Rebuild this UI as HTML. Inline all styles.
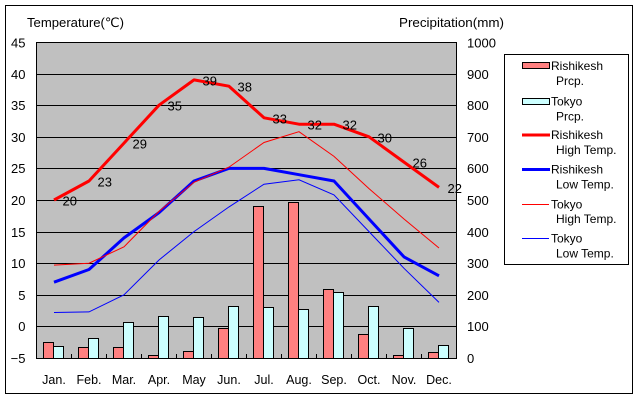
<!DOCTYPE html>
<html><head><meta charset="utf-8"><style>
html,body{margin:0;padding:0;background:#fff;}
svg{display:block;}
text{font-family:"Liberation Sans","DejaVu Sans","Noto Sans CJK JP",sans-serif;fill:#000;}
</style></head><body>
<svg width="640" height="400" viewBox="0 0 640 400" xmlns="http://www.w3.org/2000/svg">
<rect x="0" y="0" width="640" height="400" fill="#fff"/>
<rect x="5.5" y="5.5" width="627" height="388" fill="none" stroke="#000" stroke-width="1"/>
<!-- plot area -->
<rect x="36.5" y="42.5" width="420" height="316" fill="#c0c0c0"/>
<g stroke="#000" stroke-width="1">
<line x1="36.5" y1="74.5" x2="456.5" y2="74.5"/>
<line x1="36.5" y1="105.5" x2="456.5" y2="105.5"/>
<line x1="36.5" y1="137.5" x2="456.5" y2="137.5"/>
<line x1="36.5" y1="168.5" x2="456.5" y2="168.5"/>
<line x1="36.5" y1="200.5" x2="456.5" y2="200.5"/>
<line x1="36.5" y1="232.5" x2="456.5" y2="232.5"/>
<line x1="36.5" y1="263.5" x2="456.5" y2="263.5"/>
<line x1="36.5" y1="295.5" x2="456.5" y2="295.5"/>
<line x1="36.5" y1="326.5" x2="456.5" y2="326.5"/>
</g>
<!-- bars -->
<g stroke="#000" stroke-width="1">
<rect x="43.5" y="342.5" width="10" height="16" fill="#ff8080"/>
<rect x="53.5" y="346.5" width="10" height="12" fill="#ccffff"/>
<rect x="78.5" y="347.5" width="10" height="11" fill="#ff8080"/>
<rect x="88.5" y="338.5" width="10" height="20" fill="#ccffff"/>
<rect x="113.5" y="347.5" width="10" height="11" fill="#ff8080"/>
<rect x="123.5" y="322.5" width="10" height="36" fill="#ccffff"/>
<rect x="148.5" y="355.5" width="10" height="3" fill="#ff8080"/>
<rect x="158.5" y="316.5" width="10" height="42" fill="#ccffff"/>
<rect x="183.5" y="351.5" width="10" height="7" fill="#ff8080"/>
<rect x="193.5" y="317.5" width="10" height="41" fill="#ccffff"/>
<rect x="218.5" y="328.5" width="10" height="30" fill="#ff8080"/>
<rect x="228.5" y="306.5" width="10" height="52" fill="#ccffff"/>
<rect x="253.5" y="206.5" width="10" height="152" fill="#ff8080"/>
<rect x="263.5" y="307.5" width="10" height="51" fill="#ccffff"/>
<rect x="288.5" y="202.5" width="10" height="156" fill="#ff8080"/>
<rect x="298.5" y="309.5" width="10" height="49" fill="#ccffff"/>
<rect x="323.5" y="289.5" width="10" height="69" fill="#ff8080"/>
<rect x="333.5" y="292.5" width="10" height="66" fill="#ccffff"/>
<rect x="358.5" y="334.5" width="10" height="24" fill="#ff8080"/>
<rect x="368.5" y="306.5" width="10" height="52" fill="#ccffff"/>
<rect x="393.5" y="355.5" width="10" height="3" fill="#ff8080"/>
<rect x="403.5" y="328.5" width="10" height="30" fill="#ccffff"/>
<rect x="428.5" y="352.5" width="10" height="6" fill="#ff8080"/>
<rect x="438.5" y="345.5" width="10" height="13" fill="#ccffff"/>
</g>
<!-- plot border & ticks -->
<rect x="36.5" y="42.5" width="420" height="316" fill="none" stroke="#000" stroke-width="1"/>
<g stroke="#000" stroke-width="1">
<line x1="71.5" y1="354" x2="71.5" y2="358"/>
<line x1="106.5" y1="354" x2="106.5" y2="358"/>
<line x1="141.5" y1="354" x2="141.5" y2="358"/>
<line x1="176.5" y1="354" x2="176.5" y2="358"/>
<line x1="211.5" y1="354" x2="211.5" y2="358"/>
<line x1="246.5" y1="354" x2="246.5" y2="358"/>
<line x1="281.5" y1="354" x2="281.5" y2="358"/>
<line x1="316.5" y1="354" x2="316.5" y2="358"/>
<line x1="351.5" y1="354" x2="351.5" y2="358"/>
<line x1="386.5" y1="354" x2="386.5" y2="358"/>
<line x1="421.5" y1="354" x2="421.5" y2="358"/>
</g>
<!-- lines -->
<polyline fill="none" stroke="#ff0000" stroke-width="3" stroke-linejoin="round" points="54,200 89,181 124,143.1 159,105.2 194,79.9 229,86.2 264,117.8 299,124.2 334,124.2 369,136.8 404,162.1 439,187.4"/>
<polyline fill="none" stroke="#0000ff" stroke-width="3" stroke-linejoin="round" points="54,282.2 89,269.5 124,237.9 159,212.6 194,181 229,168.4 264,168.4 299,174.7 334,181 369,219 404,256.9 439,275.8"/>
<polyline fill="none" stroke="#ff0000" stroke-width="1" points="54,265.1 89,263.2 124,246.8 159,211.4 194,182.3 229,167.1 264,142.5 299,131.7 334,156.4 369,188.6 404,219 439,248"/>
<polyline fill="none" stroke="#0000ff" stroke-width="1" points="54,312.5 89,311.9 124,294.8 159,260 194,231.6 229,206.9 264,184.2 299,179.8 334,194.9 369,231.6 404,268.3 439,302.4"/>
<!-- data labels -->
<g font-size="13">
<text x="62.5" y="205.5">20</text>
<text x="97.5" y="186.5">23</text>
<text x="132.5" y="148.6">29</text>
<text x="167.5" y="110.7">35</text>
<text x="202.5" y="85.4">39</text>
<text x="237.5" y="91.7">38</text>
<text x="272.5" y="123.3">33</text>
<text x="307.5" y="129.7">32</text>
<text x="342.5" y="129.7">32</text>
<text x="377.5" y="142.3">30</text>
<text x="412.5" y="167.6">26</text>
<text x="447.5" y="192.9">22</text>
</g>
<!-- left axis labels -->
<g font-size="13" text-anchor="end">
<text x="25.5" y="47.5">45</text>
<text x="25.5" y="79">40</text>
<text x="25.5" y="110">35</text>
<text x="25.5" y="142">30</text>
<text x="25.5" y="173">25</text>
<text x="25.5" y="205">20</text>
<text x="25.5" y="237">15</text>
<text x="25.5" y="268">10</text>
<text x="25.5" y="300">5</text>
<text x="25.5" y="331">0</text>
<text x="25.5" y="363">−5</text>
</g>
<!-- right axis labels -->
<g font-size="13">
<text x="467" y="47.5">1000</text>
<text x="467" y="79">900</text>
<text x="467" y="110">800</text>
<text x="467" y="142">700</text>
<text x="467" y="173">600</text>
<text x="467" y="205">500</text>
<text x="467" y="237">400</text>
<text x="467" y="268">300</text>
<text x="467" y="300">200</text>
<text x="467" y="331">100</text>
<text x="467" y="363">0</text>
</g>
<!-- month labels -->
<g font-size="12.5" text-anchor="middle">
<text x="54" y="384">Jan.</text>
<text x="89" y="384">Feb.</text>
<text x="124" y="384">Mar.</text>
<text x="159" y="384">Apr.</text>
<text x="194" y="384">May</text>
<text x="229" y="384">Jun.</text>
<text x="264" y="384">Jul.</text>
<text x="299" y="384">Aug.</text>
<text x="334" y="384">Sep.</text>
<text x="369" y="384">Oct.</text>
<text x="404" y="384">Nov.</text>
<text x="439" y="384">Dec.</text>
</g>
<!-- titles -->
<text x="27" y="27" font-size="13" textLength="97" lengthAdjust="spacingAndGlyphs">Temperature(℃)</text>
<text x="399" y="27" font-size="13" textLength="105" lengthAdjust="spacingAndGlyphs">Precipitation(mm)</text>
<!-- legend -->
<rect x="504.5" y="54.5" width="124" height="210" fill="#fff" stroke="#000" stroke-width="1"/>
<rect x="522.5" y="62.5" width="27" height="6" fill="#ff8080" stroke="#000" stroke-width="1"/>
<rect x="522.5" y="98.5" width="27" height="6" fill="#ccffff" stroke="#000" stroke-width="1"/>
<line x1="522" y1="135" x2="550" y2="135" stroke="#ff0000" stroke-width="3"/>
<line x1="522" y1="169.5" x2="550" y2="169.5" stroke="#0000ff" stroke-width="3"/>
<line x1="522" y1="204.5" x2="549" y2="204.5" stroke="#ff0000" stroke-width="1"/>
<line x1="522" y1="238.5" x2="549" y2="238.5" stroke="#0000ff" stroke-width="1"/>
<g font-size="12">
<text x="551" y="70">Rishikesh</text>
<text x="556" y="85">Prcp.</text>
<text x="551" y="105.5">Tokyo</text>
<text x="556" y="120.5">Prcp.</text>
<text x="551" y="139">Rishikesh</text>
<text x="556" y="154">High Temp.</text>
<text x="551" y="173.5">Rishikesh</text>
<text x="556" y="188.5">Low Temp.</text>
<text x="551" y="208.5">Tokyo</text>
<text x="556" y="223">High Temp.</text>
<text x="551" y="242.5">Tokyo</text>
<text x="556" y="257.5">Low Temp.</text>
</g>
</svg>
</body></html>
